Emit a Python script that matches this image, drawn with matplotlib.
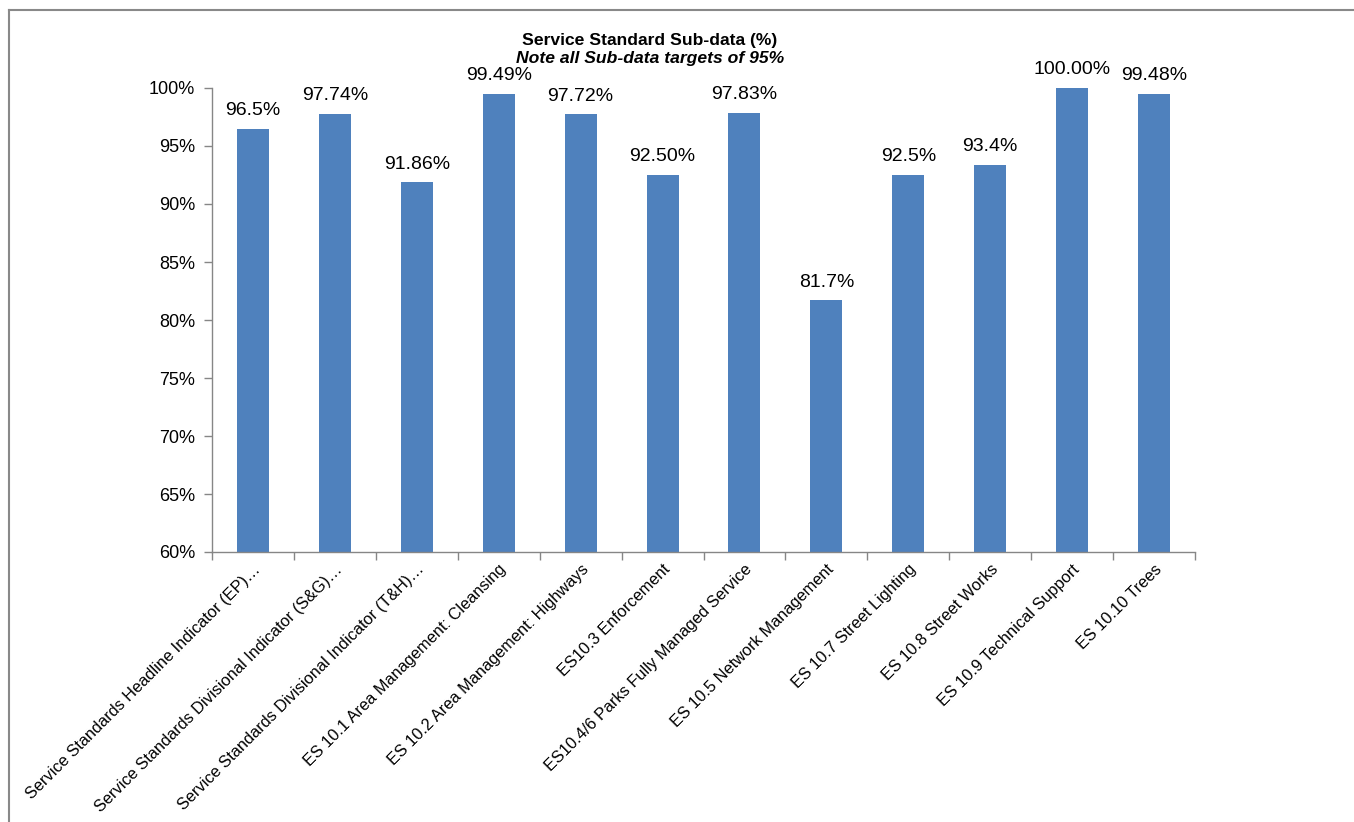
import numpy as np
import matplotlib
matplotlib.use('Agg')
import matplotlib.pyplot as plt
from matplotlib.lines import Line2D

# Category labels (long ones truncated as in the original)
categories = [
    'Service Standards Headline Indicator (EP)\u2026',
    'Service Standards Divisional Indicator (S&G)\u2026',
    'Service Standards Divisional Indicator (T&H)\u2026',
    'ES 10.1 Area Management: Cleansing',
    'ES 10.2 Area Management: Highways',
    'ES10.3 Enforcement',
    'ES10.4/6 Parks Fully Managed Service',
    'ES 10.5 Network Management',
    'ES 10.7 Street Lighting',
    'ES 10.8 Street Works',
    'ES 10.9 Technical Support',
    'ES 10.10 Trees',
]
values = [96.5, 97.74, 91.86, 99.49, 97.72, 92.50, 97.83, 81.7, 92.5, 93.4, 100.00, 99.48]
value_labels = ['96.5%', '97.74%', '91.86%', '99.49%', '97.72%', '92.50%',
                '97.83%', '81.7%', '92.5%', '93.4%', '100.00%', '99.48%']
y_ticks = [60, 65, 70, 75, 80, 85, 90, 95, 100]

plt.rcParams['font.family'] = ['Liberation Sans', 'DejaVu Sans']

W, H = 1354, 822
fig = plt.figure(figsize=(W / 100, H / 100), dpi=100)
ax = fig.add_axes([212 / W, 1 - 552 / H, (1195 - 212) / W, (552 - 88) / H])

bar_color = '#4F81BD'
axis_color = '#868686'

x = np.arange(len(categories))
ax.bar(x, values, width=0.39, color=bar_color, zorder=2)

for xi, v, lab in zip(x, values, value_labels):
    ax.annotate(lab, (xi, v), xytext=(0, 7), textcoords='offset points',
                ha='center', va='bottom', fontsize=14, color='#000000')

ax.set_xlim(-0.5, len(categories) - 0.5)
ax.set_ylim(60, 100)
ax.set_yticks(y_ticks)
ax.set_yticklabels([f'{t}%' for t in y_ticks], fontsize=13)

ax.set_xticks(x)
ax.set_xticklabels(categories, rotation=45, ha='right', rotation_mode='anchor',
                   fontsize=11.8)
ax.tick_params(axis='x', length=0, pad=7)
ax.set_xticks(np.arange(-0.5, len(categories)), minor=True)
ax.tick_params(axis='x', which='minor', length=6, color=axis_color, width=1)
ax.tick_params(axis='y', length=6, color=axis_color, width=1, pad=6)

for side in ['top', 'right']:
    ax.spines[side].set_visible(False)
for side in ['left', 'bottom']:
    ax.spines[side].set_color(axis_color)
    ax.spines[side].set_linewidth(1)

# Title lines
fig.text(650 / W, 1 - 40 / H, 'Service Standard Sub-data (%)', ha='center', va='center',
         fontsize=12.6, fontweight='bold')
fig.text(650 / W, 1 - 58 / H, 'Note all Sub-data targets of 95%', ha='center', va='center',
         fontsize=12.6, fontweight='bold', style='italic')

# Chart area frame (top and left edges visible)
fig.add_artist(Line2D([9 / W, 1], [1 - 10 / H, 1 - 10 / H], color='#898989', lw=1.5,
                      transform=fig.transFigure))
fig.add_artist(Line2D([9 / W, 9 / W], [1 - 10 / H, 0], color='#898989', lw=1.5,
                      transform=fig.transFigure))

fig.savefig('out.png', dpi=100)
